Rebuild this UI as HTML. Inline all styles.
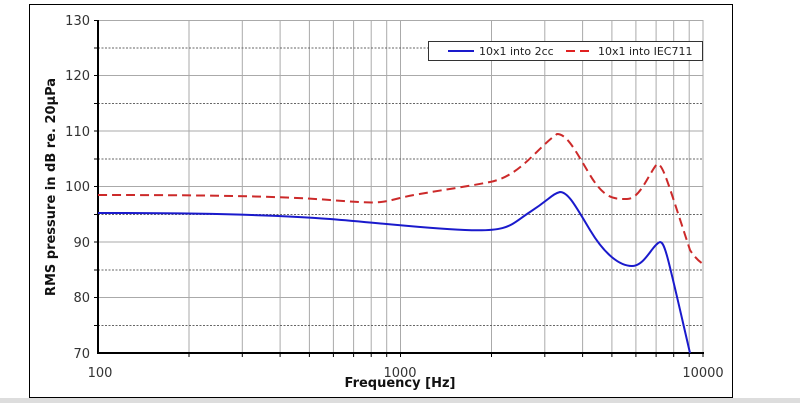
<!DOCTYPE html><html><head><style>body{margin:0;background:#fff}svg{display:block}text{font-family:"DejaVu Sans","Liberation Sans",sans-serif}</style></head><body>
<svg width="800" height="403" viewBox="0 0 800 403">
<rect x="0" y="398" width="800" height="5" fill="#ddd"/>
<rect x="29.5" y="4.5" width="703" height="393" fill="#fff" stroke="#000"/>
<g stroke="#aaa" stroke-width="1">
<line x1="189" y1="20" x2="189" y2="353"/><line x1="242.3" y1="20" x2="242.3" y2="353"/><line x1="280.1" y1="20" x2="280.1" y2="353"/><line x1="309.4" y1="20" x2="309.4" y2="353"/><line x1="333.4" y1="20" x2="333.4" y2="353"/><line x1="353.6" y1="20" x2="353.6" y2="353"/><line x1="371.2" y1="20" x2="371.2" y2="353"/><line x1="386.7" y1="20" x2="386.7" y2="353"/><line x1="400.5" y1="20" x2="400.5" y2="353"/>
<line x1="491.5" y1="20" x2="491.5" y2="353"/><line x1="544.8" y1="20" x2="544.8" y2="353"/><line x1="582.6" y1="20" x2="582.6" y2="353"/><line x1="611.9" y1="20" x2="611.9" y2="353"/><line x1="635.9" y1="20" x2="635.9" y2="353"/><line x1="656.1" y1="20" x2="656.1" y2="353"/><line x1="673.7" y1="20" x2="673.7" y2="353"/><line x1="689.2" y1="20" x2="689.2" y2="353"/><line x1="703" y1="20" x2="703" y2="353"/>
<line x1="98" y1="20.5" x2="703" y2="20.5"/><line x1="98" y1="75.5" x2="703" y2="75.5"/><line x1="98" y1="131" x2="703" y2="131"/><line x1="98" y1="186.5" x2="703" y2="186.5"/><line x1="98" y1="242" x2="703" y2="242"/><line x1="98" y1="297.5" x2="703" y2="297.5"/>
</g>
<g stroke="#666" stroke-dasharray="2,1.5">
<line x1="98" y1="48" x2="703" y2="48"/><line x1="98" y1="103.5" x2="703" y2="103.5"/><line x1="98" y1="159" x2="703" y2="159"/><line x1="98" y1="214.5" x2="703" y2="214.5"/><line x1="98" y1="270" x2="703" y2="270"/><line x1="98" y1="325.5" x2="703" y2="325.5"/>
</g>
<g stroke="#000" stroke-width="2"><line x1="98" y1="20" x2="98" y2="354"/><line x1="97" y1="353" x2="704" y2="353"/></g>
<g stroke="#000" stroke-width="1">
<line x1="94" y1="20.5" x2="98" y2="20.5"/><line x1="94" y1="75.5" x2="98" y2="75.5"/><line x1="94" y1="131" x2="98" y2="131"/><line x1="94" y1="186.5" x2="98" y2="186.5"/><line x1="94" y1="242" x2="98" y2="242"/><line x1="94" y1="297.5" x2="98" y2="297.5"/><line x1="94" y1="48" x2="98" y2="48"/><line x1="94" y1="103.5" x2="98" y2="103.5"/><line x1="94" y1="159" x2="98" y2="159"/><line x1="94" y1="214.5" x2="98" y2="214.5"/><line x1="94" y1="270" x2="98" y2="270"/><line x1="94" y1="325.5" x2="98" y2="325.5"/>
<line x1="189" y1="353" x2="189" y2="357"/><line x1="242.3" y1="353" x2="242.3" y2="357"/><line x1="280.1" y1="353" x2="280.1" y2="357"/><line x1="309.4" y1="353" x2="309.4" y2="357"/><line x1="333.4" y1="353" x2="333.4" y2="357"/><line x1="353.6" y1="353" x2="353.6" y2="357"/><line x1="371.2" y1="353" x2="371.2" y2="357"/><line x1="386.7" y1="353" x2="386.7" y2="357"/><line x1="400.5" y1="353" x2="400.5" y2="357"/>
<line x1="491.5" y1="353" x2="491.5" y2="357"/><line x1="544.8" y1="353" x2="544.8" y2="357"/><line x1="582.6" y1="353" x2="582.6" y2="357"/><line x1="611.9" y1="353" x2="611.9" y2="357"/><line x1="635.9" y1="353" x2="635.9" y2="357"/><line x1="656.1" y1="353" x2="656.1" y2="357"/><line x1="673.7" y1="353" x2="673.7" y2="357"/><line x1="689.2" y1="353" x2="689.2" y2="357"/><line x1="703" y1="353" x2="703" y2="357"/>
</g>
<g font-size="13" fill="#333" text-anchor="end">
<text x="90" y="25">130</text><text x="90" y="80">120</text><text x="90" y="136">110</text><text x="90" y="191">100</text><text x="90" y="247">90</text><text x="90" y="302">80</text><text x="90" y="358">70</text></g>
<g font-size="13" fill="#333" text-anchor="middle"><text x="100" y="377">100</text><text x="400" y="377">1000</text><text x="703" y="377">10000</text></g>
<text x="400" y="387" font-size="13" font-weight="bold" text-anchor="middle" fill="#111">Frequency [Hz]</text>
<text transform="translate(55,187) rotate(-90)" font-size="13" font-weight="bold" text-anchor="middle" fill="#111">RMS pressure in dB re. 20μPa</text>
<path d="M98,213 C200,213 280,215 330,219 S420,228 465,230 S510,225 530,212 S552,194 560,192 C568,192 575,205 590,230 S620,266 632,266 C645,266 652,245 660,242 C665,242 668,258 690,353" fill="none" stroke="#1a1acc" stroke-width="2"/>
<path d="M98,195 C200,195 280,196 330,200 S380,203 400,198 S460,188 490,182 S535,150 557,134 C567,134 575,150 590,175 S615,199 627,199 C640,199 648,175 657,164 C663,164 667,180 690,250 C695,258 700,262 703,264" fill="none" stroke="#cc2a2a" stroke-width="2" stroke-dasharray="9,5"/>
<rect x="428.5" y="41.5" width="274" height="19" fill="#fff" stroke="#333"/>
<line x1="448" y1="51" x2="474" y2="51" stroke="#1a1acc" stroke-width="2"/>
<text x="479" y="55" font-size="11" fill="#222">10x1 into 2cc</text>
<line x1="566" y1="51" x2="594" y2="51" stroke="#e02020" stroke-width="2" stroke-dasharray="9,5"/>
<text x="598" y="55" font-size="11" fill="#222">10x1 into IEC711</text>
</svg></body></html>
